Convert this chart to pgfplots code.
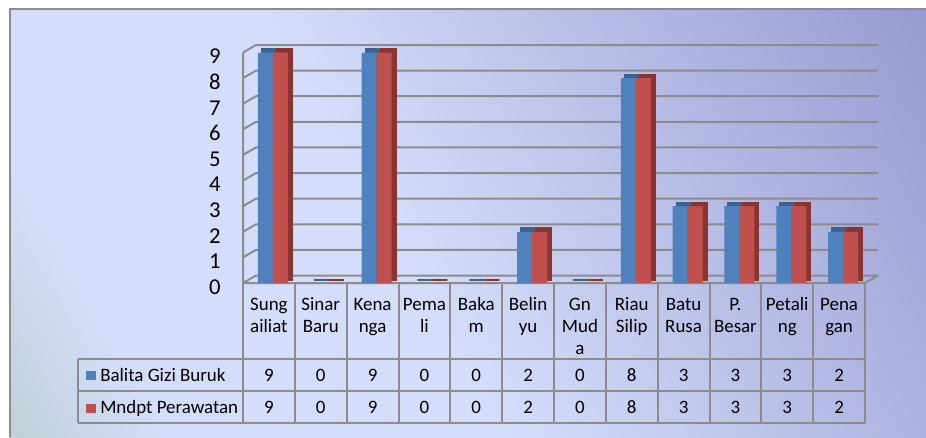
\documentclass[border=0pt]{standalone}
\usepackage{pgfplots}
\pgfplotsset{compat=1.18}
\usepackage{pgfplotstable}
\usepackage{fontspec}
\setmainfont{Carlito}
\definecolor{barblue}{HTML}{4F81BD}
\definecolor{barbluedk}{HTML}{3A6394}
\definecolor{barred}{HTML}{C0504D}
\definecolor{barreddk}{HTML}{8A3431}
\definecolor{gridgray}{HTML}{8C8C8C}
\definecolor{bgA}{HTML}{9DBA9D}
\definecolor{bgB}{HTML}{D4DEFA}
\definecolor{bgC}{HTML}{8080C0}
\pgfdeclarehorizontalshading{bgshade}{100bp}{color(0bp)=(bgA); color(25bp)=(bgB); color(45bp)=(bgB); color(100bp)=(bgC)}
\newcommand{\tabfont}{\fontsize{14.2}{16.5}\selectfont}

\pgfplotstableread{
x b m
0 9 9
1 0 0
2 9 9
3 0 0
4 0 0
5 2 2
6 0 0
7 8 8
8 3 3
9 3 3
10 3 3
11 2 2
}\datatable

\pgfplotsset{common/.style={anchor=south west, scale only axis, width=466.5pt, height=172.875pt,
  xmin=-0.5, xmax=11.5, ymin=0, ymax=9, ybar, bar width=11.25pt, clip=false}}

\begin{document}
\begin{tikzpicture}
\begin{scope}[x=0.75pt,y=0.75pt]
\useasboundingbox (0,0) rectangle (926,437);
\shade[shading=bgshade, shading angle=30] (10,0) rectangle (926,428);
\draw[gridgray, line width=1.2pt] (10,0) -- (10,428) -- (926,428);
\foreach \v in {0,...,9} {
  \draw[gridgray, line width=1.5pt] (243,154+25.61*\v) -- (256,161.5+25.61*\v) -- (878,161.5+25.61*\v);
}
\draw[gridgray, line width=1.5pt] (243,384.5) -- (243,154) -- (865,154) -- (878,161.5);
\end{scope}

\begin{axis}[common, at={(185.25pt,118.125pt)}, hide axis]
\addplot[fill=barbluedk, draw=barbluedk, line width=1.5pt, bar shift=-2.625pt] table[x=x,y=b]{\datatable};
\addplot[fill=barreddk, draw=barreddk, line width=1.5pt, bar shift=8.625pt] table[x=x,y=m]{\datatable};
\end{axis}

\begin{axis}[common, at={(182.25pt,115.5pt)},
  axis line style={draw=none}, major tick length=0pt,
  ytick={0,...,9}, xtick={0,...,11},
  /pgf/number format/assume math mode=true,
  yticklabel style={font=\fontsize{17}{20}\selectfont, anchor=east, inner sep=0pt, xshift=-16.5pt, yshift=-3pt},
  xticklabel style={font=\tabfont, align=center, anchor=north, inner sep=0pt, yshift=-9.2pt},
  xticklabels={{\strut Sung\\ailiat},{\strut Sinar\\Baru},{\strut Kena\\nga},{\strut Pema\\li},{\strut Baka\\m},{\strut Belin\\yu},{\strut Gn\\Mud\\a},{\strut Riau\\Silip},{\strut Batu\\Rusa},{\strut P.\\Besar},{\strut Petali\\ng},{\strut Pena\\gan}}]
\addplot[fill=barblue, draw=none, bar shift=-2.625pt] table[x=x,y=b]{\datatable};
\addplot[fill=barred, draw=none, bar shift=8.625pt] table[x=x,y=m]{\datatable};
\end{axis}

\begin{scope}[x=0.75pt,y=0.75pt]
\foreach \k in {0,...,12} {
  \draw[gridgray, line width=1.5pt] (243+51.833*\k,154) -- (243+51.833*\k,14);
}
\draw[gridgray, line width=1.5pt] (78,78) -- (78,14);
\foreach \yy in {78,46,14} {
  \draw[gridgray, line width=1.5pt] (78,\yy) -- (865,\yy);
}
\fill[barblue] (86,57) rectangle (96,66);
\fill[barred] (86,24.5) rectangle (96,33.5);
\node[anchor=base west, inner sep=0pt, font=\tabfont] at (100,56) {Balita Gizi Buruk};
\node[anchor=base west, inner sep=0pt, font=\tabfont] at (100,24) {Mndpt Perawatan};
\foreach \v [count=\k from 0] in {9,0,9,0,0,2,0,8,3,3,3,2} {
  \node[anchor=base, inner sep=0pt, font=\tabfont] at (243+51.833*\k+25.917,56) {\v};
}
\foreach \v [count=\k from 0] in {9,0,9,0,0,2,0,8,3,3,3,2} {
  \node[anchor=base, inner sep=0pt, font=\tabfont] at (243+51.833*\k+25.917,24) {\v};
}
\end{scope}
\end{tikzpicture}
\end{document}
